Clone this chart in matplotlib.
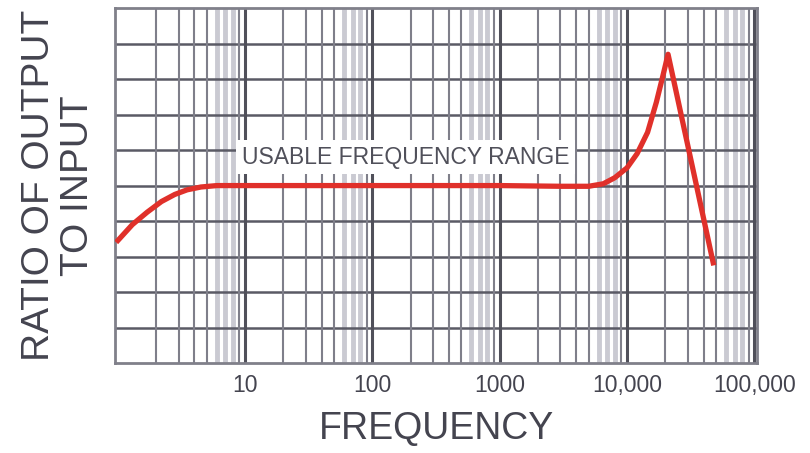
import numpy as np
import matplotlib.pyplot as plt
from matplotlib.ticker import FixedLocator, NullFormatter

plt.rcParams['font.family'] = ['Liberation Sans', 'DejaVu Sans']

# response curve
freq = [0.97, 1.3, 1.7, 2.2, 2.8, 3.5, 4.5, 6, 10, 100, 1000, 3000, 5000,
        6500, 8000, 10000, 12000, 14500, 17000, 19000, 21000, 48000]
ratio = [3.4, 3.9, 4.25, 4.55, 4.75, 4.88, 4.96, 5.0, 5.0, 5.0, 5.0, 4.98, 4.98,
         5.05, 5.22, 5.5, 5.9, 6.5, 7.35, 8.05, 8.7, 2.75]

tick_pos = [10, 100, 1000, 10000, 100000]
tick_lab = ['10', '100', '1000', '10,000', '100,000']
decades = [1, 10, 100, 1000, 10000]

txt = '#44444f'

fig = plt.figure(figsize=(8.1, 4.53), dpi=100)
ax = fig.add_axes([0.142, 0.1987, 0.7926, 0.7833])
ax.set_xscale('log')
ax.set_xlim(0.95, 1.05e5)
ax.set_ylim(0, 10)

# grid: horizontal rows, decade lines, minor lines (6-8 drawn as pale bands)
for yv in range(1, 10):
    ax.axhline(yv, color='#5a5a65', lw=1.8, zorder=1)
for d in decades:
    for m in [2, 3, 4, 5, 9]:
        ax.axvline(d * m, color='#7f7f8a', lw=1.5, zorder=1)
    for m in [6, 7, 8]:
        ax.axvline(d * m, color='#cacad2', lw=3.5, zorder=0.5)
for d in tick_pos:
    ax.axvline(d, color='#50505a', lw=2.2, zorder=1)

ax.plot(freq, ratio, color='#e0302a', lw=3.8, solid_capstyle='butt', zorder=3)

ax.text(182, 5.8, 'USABLE FREQUENCY RANGE', fontsize=16.5, color='#50505a',
        ha='center', va='center', zorder=4,
        bbox=dict(facecolor='white', edgecolor='none', pad=4))

ax.xaxis.set_major_locator(FixedLocator(tick_pos))
ax.set_xticklabels(tick_lab)
ax.xaxis.set_minor_formatter(NullFormatter())
ax.tick_params(axis='x', which='both', length=0, labelsize=16.5, labelcolor=txt, pad=8)
ax.set_yticks([])

for s in ax.spines.values():
    s.set_color('#80808a')
    s.set_linewidth(2)

ax.set_xlabel('FREQUENCY', fontsize=27, color=txt, labelpad=10)
ax.set_ylabel('RATIO OF OUTPUT\nTO INPUT', fontsize=28, color=txt,
              linespacing=1.1, labelpad=14)

fig.savefig('out.png', dpi=100)
